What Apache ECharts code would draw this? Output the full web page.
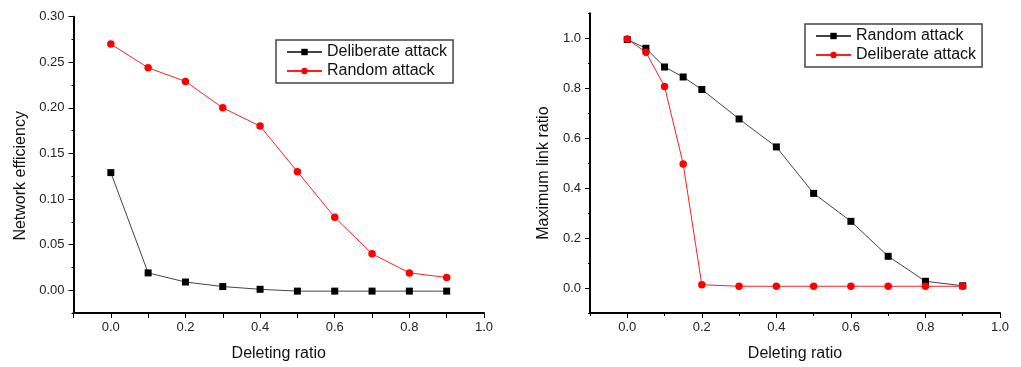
<!DOCTYPE html>
<html>
<head>
<meta charset="utf-8">
<script src="https://cdn.jsdelivr.net/npm/echarts@6/dist/echarts.min.js"></script>
<style>
html,body{margin:0;padding:0;background:#fff;}
#left{position:absolute;left:0;top:0;width:510px;height:367px;}
#right{position:absolute;left:510px;top:0;width:511px;height:367px;}
</style>
</head>
<body>
<div id="left"></div>
<div id="right"></div>
<script>
// ---- data (left panel) ----
const leftX = [0.0, 0.1, 0.2, 0.3, 0.4, 0.5, 0.6, 0.7, 0.8, 0.9];
const leftDeliberate = [0.129, 0.019, 0.009, 0.004, 0.001, -0.001, -0.001, -0.001, -0.001, -0.001];
const leftRandom = [0.270, 0.244, 0.229, 0.200, 0.180, 0.130, 0.080, 0.040, 0.019, 0.014];
const leftXTicks = [0.0, 0.2, 0.4, 0.6, 0.8, 1.0];
const leftYTicks = [0.00, 0.05, 0.10, 0.15, 0.20, 0.25, 0.30];

// ---- data (right panel) ----
const rightX = [0.0, 0.05, 0.1, 0.15, 0.2, 0.3, 0.4, 0.5, 0.6, 0.7, 0.8, 0.9];
const rightRandom = [0.995, 0.96, 0.885, 0.845, 0.795, 0.677, 0.565, 0.379, 0.267, 0.127, 0.027, 0.009];
const rightDeliberate = [0.997, 0.944, 0.807, 0.497, 0.013, 0.007, 0.007, 0.007, 0.007, 0.007, 0.007, 0.007];
const rightXTicks = [0.0, 0.2, 0.4, 0.6, 0.8, 1.0];
const rightYTicks = [0.0, 0.2, 0.4, 0.6, 0.8, 1.0];

const FONT = "Arial, 'Liberation Sans', sans-serif";
const TXT = '#222';

function pairs(xs, ys) { return xs.map((x, i) => [x, ys[i]]); }

function blackSeries(name, xs, ys) {
  return {
    name: name, type: 'line', data: pairs(xs, ys),
    symbol: 'rect', symbolSize: 7,
    itemStyle: { color: '#000' },
    lineStyle: { color: '#444', width: 1 },
    emphasis: { disabled: true }, animation: false
  };
}
function redSeries(name, xs, ys) {
  return {
    name: name, type: 'line', data: pairs(xs, ys),
    symbol: 'circle', symbolSize: 7.5,
    itemStyle: { color: '#ff0000' },
    lineStyle: { color: '#ff2020', width: 1 },
    emphasis: { disabled: true }, animation: false
  };
}

function legend(left, top) {
  return {
    orient: 'vertical', left: left, top: top,
    padding: [3, 6, 3, 10],
    borderColor: '#444', borderWidth: 1.5,
    itemWidth: 35, itemHeight: 8, itemGap: 1,
    selectedMode: false,
    textStyle: { fontFamily: FONT, fontSize: 16, color: '#111', lineHeight: 18 }
  };
}

function xAxes(ticks, minorLen, majorOnlyTicks) {
  return [{
    type: 'value', min: -0.1, max: 1.0, interval: 0.1,
    name: 'Deleting ratio', nameLocation: 'middle', nameGap: 33,
    nameTextStyle: { fontFamily: FONT, fontSize: 16, color: '#111' },
    axisLine: { show: true, onZero: false, lineStyle: { color: '#000', width: 2 } },
    axisTick: majorOnlyTicks
      ? { show: true, customValues: ticks, length: 5, lineStyle: { color: '#000', width: 1 } }
      : { show: true, length: 5, lineStyle: { color: '#000', width: 1 } },
    axisLabel: { customValues: ticks, margin: 8, fontFamily: FONT, fontSize: 13, color: TXT,
      formatter: v => Number(v).toFixed(1) },
    splitLine: { show: false }
  }, {
    type: 'value', min: -0.1, max: 1.0, interval: 0.1, position: 'bottom',
    axisLine: { show: false, onZero: false }, axisLabel: { show: false }, splitLine: { show: false },
    axisTick: { show: majorOnlyTicks, length: minorLen, lineStyle: { color: '#000', width: 1 } }
  }];
}

function yAxes(name, min, max, minorInterval, ticks, digits, gap, pad) {
  return [{
    type: 'value', min: min, max: max, interval: minorInterval,
    name: name, nameLocation: 'middle', nameGap: gap,
    nameTextStyle: { fontFamily: FONT, fontSize: 16, color: '#111', padding: pad },
    axisLine: { show: true, onZero: false, lineStyle: { color: '#000', width: 2 } },
    axisTick: { show: true, customValues: ticks, length: 5, lineStyle: { color: '#000', width: 1 } },
    axisLabel: { customValues: ticks, margin: 9, fontFamily: FONT, fontSize: 13, color: TXT,
      formatter: v => Number(v).toFixed(digits) },
    splitLine: { show: false }
  }, {
    type: 'value', min: min, max: max, interval: minorInterval, position: 'left',
    axisLine: { show: false, onZero: false }, axisLabel: { show: false }, splitLine: { show: false },
    axisTick: { show: true, length: 2, lineStyle: { color: '#000', width: 1 } }
  }];
}

const leftChart = echarts.init(document.getElementById('left'), null, { renderer: 'canvas' });
leftChart.setOption({
  backgroundColor: '#fff',
  animation: false,
  grid: { left: 73.5, top: 16.7, width: 410.5, height: 300 },
  legend: Object.assign(legend(276, 40), { data: ['Deliberate attack', 'Random attack'] }),
  xAxis: xAxes(leftXTicks, 5, false),
  yAxis: yAxes('Network efficiency', -0.025, 0.30, 0.025, leftYTicks, 2, 44, [0, 22, 0, 0]),
  series: [
    blackSeries('Deliberate attack', leftX, leftDeliberate),
    redSeries('Random attack', leftX, leftRandom)
  ]
});

const rightChart = echarts.init(document.getElementById('right'), null, { renderer: 'canvas' });
rightChart.setOption({
  backgroundColor: '#fff',
  animation: false,
  grid: { left: 80, top: 13.3, width: 410, height: 300 },
  legend: Object.assign(legend(295, 24), { data: ['Random attack', 'Deliberate attack'] }),
  xAxis: xAxes(rightXTicks, 3, true),
  yAxis: yAxes('Maximum link ratio', -0.1, 1.1, 0.1, rightYTicks, 1, 37, [0, 20, 0, 0]),
  series: [
    blackSeries('Random attack', rightX, rightRandom),
    redSeries('Deliberate attack', rightX, rightDeliberate)
  ]
});
</script>
</body>
</html>
